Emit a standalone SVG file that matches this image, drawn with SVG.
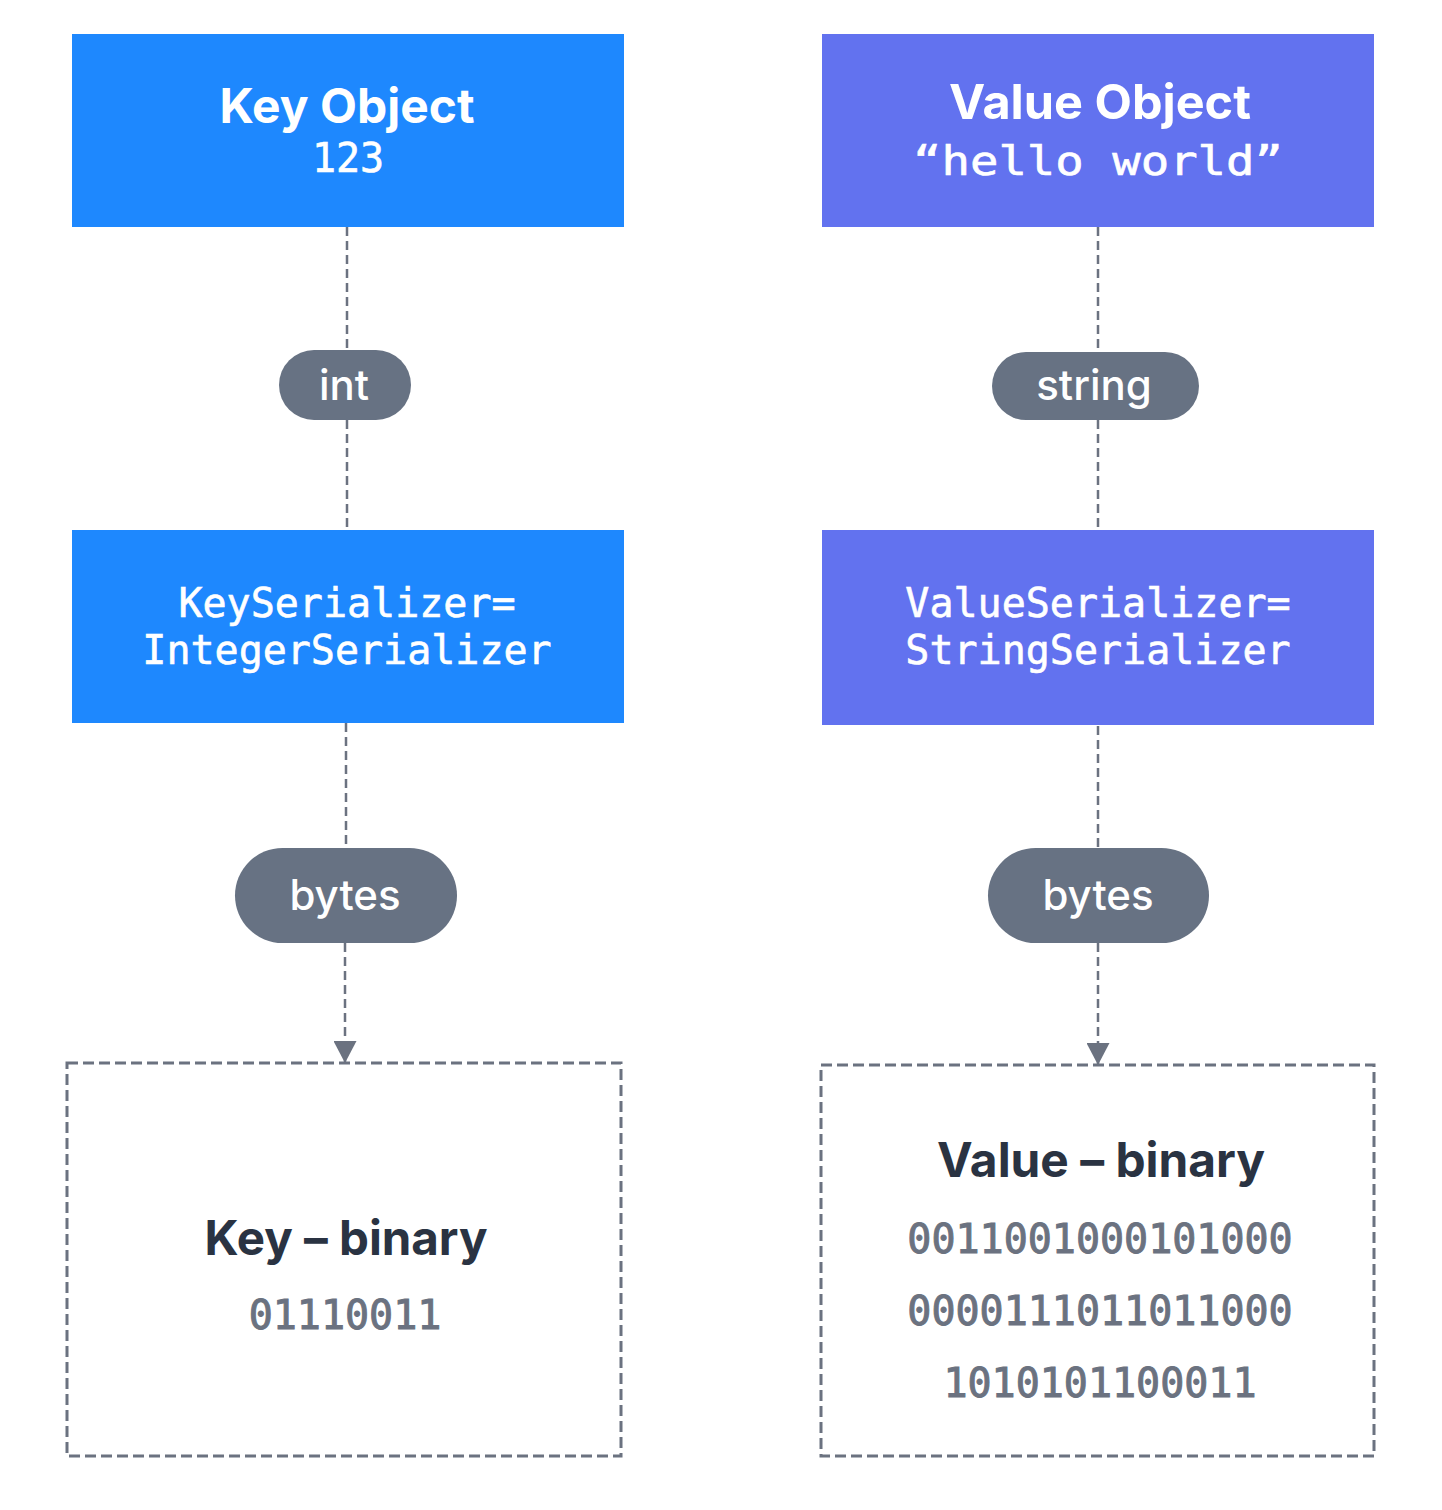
<svg xmlns="http://www.w3.org/2000/svg" width="1442" height="1510" viewBox="0 0 1442 1510">
<style>
.key{fill:#1E88FE}
.val{fill:#6272EF}
.pill{fill:#677283}
.head{font-family:Inter,"Liberation Sans",sans-serif;font-weight:700;font-size:48px;fill:#ffffff;text-anchor:middle}
.mono{font-family:"DejaVu Sans Mono","Liberation Mono",monospace;font-size:40px;fill:#ffffff;stroke:#ffffff;stroke-width:0.6;text-anchor:middle}
.plab{font-family:Inter,"Liberation Sans",sans-serif;font-weight:500;font-size:42px;fill:#ffffff;text-anchor:middle}
.bhead{font-family:Inter,"Liberation Sans",sans-serif;font-weight:700;font-size:48px;fill:#2A3342;text-anchor:middle}
.bin{font-family:"DejaVu Sans Mono","Liberation Mono",monospace;font-size:40px;fill:#6B7280;stroke:#6B7280;stroke-width:1;text-anchor:middle}
.conn{stroke:#6B7280;stroke-width:2.5;stroke-dasharray:9 5;fill:none}
.dbox{stroke:#6B7280;stroke-width:3;stroke-dasharray:11 5;fill:#ffffff}
</style>
<defs>
<marker id="arr" viewBox="0 0 22 23" refX="22" refY="11.5" markerWidth="22" markerHeight="23" markerUnits="userSpaceOnUse" orient="auto">
<path d="M0,0 L22,11.5 L0,23 z" fill="#6B7280"/>
</marker>
</defs>
<rect width="1442" height="1510" fill="#ffffff"/>
<g id="connectors">
<line class="conn" x1="347" y1="227" x2="347" y2="350"/>
<line class="conn" x1="347" y1="420" x2="347" y2="530"/>
<line class="conn" x1="346" y1="723" x2="346" y2="848"/>
<line class="conn" x1="345" y1="943" x2="345" y2="1063" marker-end="url(#arr)"/>
<line class="conn" x1="1098" y1="227" x2="1098" y2="352"/>
<line class="conn" x1="1098" y1="420" x2="1098" y2="530"/>
<line class="conn" x1="1098" y1="726" x2="1098" y2="848"/>
<line class="conn" x1="1098" y1="943" x2="1098" y2="1065" marker-end="url(#arr)"/>
</g>
<g id="key-object">
<rect class="key" x="72" y="34" width="552" height="193"/>
<text class="head" x="347" y="123" textLength="255" lengthAdjust="spacingAndGlyphs">Key Object</text>
<text class="mono" x="348" y="172">123</text>
</g>
<g id="value-object">
<rect class="val" x="822" y="34" width="552" height="193"/>
<text class="head" x="1100" y="119" textLength="302" lengthAdjust="spacingAndGlyphs">Value Object</text>
<text class="mono" x="1098" y="175" font-size="46" textLength="370" lengthAdjust="spacingAndGlyphs">“hello world”</text>
</g>
<g id="int-pill">
<rect class="pill" x="279" y="350" width="132" height="70" rx="35"/>
<text class="plab" x="344" y="400">int</text>
</g>
<g id="string-pill">
<rect class="pill" x="992" y="352" width="207" height="68" rx="34"/>
<text class="plab" x="1094" y="400">string</text>
</g>
<g id="key-serializer">
<rect class="key" x="72" y="530" width="552" height="193"/>
<text class="mono" x="347" y="617">KeySerializer=</text>
<text class="mono" x="347" y="664">IntegerSerializer</text>
</g>
<g id="value-serializer">
<rect class="val" x="822" y="530" width="552" height="195"/>
<text class="mono" x="1098" y="617">ValueSerializer=</text>
<text class="mono" x="1098" y="664">StringSerializer</text>
</g>
<g id="key-bytes-pill">
<rect class="pill" x="235" y="848" width="222" height="95" rx="47.5"/>
<text class="plab" x="345" y="910">bytes</text>
</g>
<g id="value-bytes-pill">
<rect class="pill" x="988" y="848" width="221" height="95" rx="47.5"/>
<text class="plab" x="1098" y="910">bytes</text>
</g>
<g id="key-binary">
<rect class="dbox" x="67" y="1063" width="554" height="393"/>
<text class="bhead" x="346" y="1255" textLength="283" lengthAdjust="spacingAndGlyphs">Key – binary</text>
<text class="bin" x="345" y="1329">01110011</text>
</g>
<g id="value-binary">
<rect class="dbox" x="821" y="1065" width="553" height="391"/>
<text class="bhead" x="1101" y="1177" textLength="328" lengthAdjust="spacingAndGlyphs">Value – binary</text>
<text class="bin" x="1100" y="1253">0011001000101000</text>
<text class="bin" x="1100" y="1325">0000111011011000</text>
<text class="bin" x="1100" y="1397">1010101100011</text>
</g>
</svg>
